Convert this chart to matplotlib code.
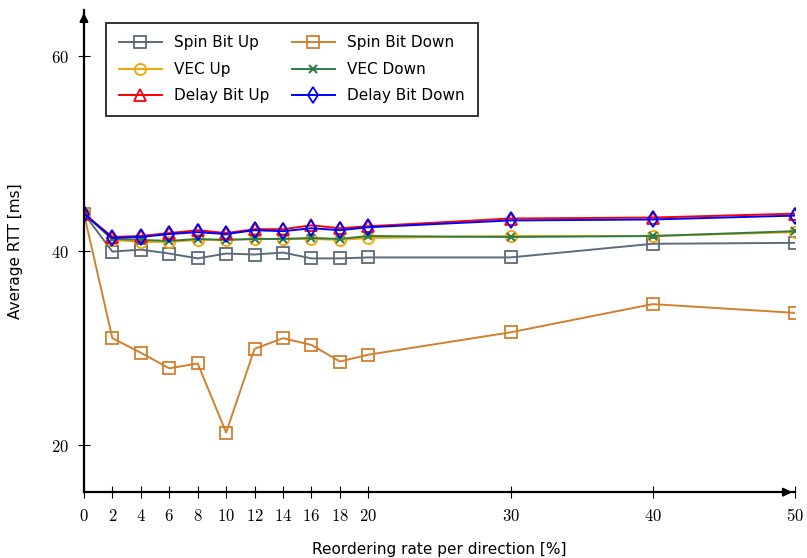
import numpy as np
import matplotlib.pyplot as plt

plt.rcParams['mathtext.fontset'] = 'cm'
plt.rcParams['font.family'] = ['DejaVu Sans']

# reordering rate per direction [%]
rates = [0, 2, 4, 6, 8, 10, 12, 14, 16, 18, 20, 30, 40, 50]

spin_up = [43.8, 39.9, 40.1, 39.7, 39.2, 39.7, 39.6, 39.8, 39.2, 39.2, 39.3, 39.3, 40.7, 40.8]
spin_down = [43.8, 31.0, 29.5, 27.9, 28.4, 21.3, 29.9, 31.0, 30.3, 28.6, 29.3, 31.6, 34.5, 33.6]
vec_up = [43.8, 41.1, 40.9, 40.9, 41.1, 41.1, 41.2, 41.2, 41.2, 41.1, 41.3, 41.5, 41.5, 41.9]
vec_down = [43.8, 41.2, 41.1, 41.0, 41.2, 41.1, 41.2, 41.2, 41.3, 41.2, 41.5, 41.4, 41.5, 42.0]
delay_up = [43.8, 41.4, 41.5, 41.8, 42.1, 41.8, 42.2, 42.2, 42.6, 42.3, 42.5, 43.3, 43.4, 43.8]
delay_down = [43.8, 41.3, 41.4, 41.7, 41.9, 41.7, 42.1, 42.0, 42.3, 42.1, 42.4, 43.1, 43.2, 43.6]

xticks = [0, 2, 4, 6, 8, 10, 12, 14, 16, 18, 20, 30, 40, 50]
yticks = [20, 40, 60]

fig = plt.figure(figsize=(8.07, 5.58), dpi=100)
ax = fig.add_axes([0.104, 0.118, 0.881, 0.864])

# series: (values, label, colour, marker)
series = [
    (spin_up, 'Spin Bit Up', '#5b6b7a', 's'),
    (spin_down, 'Spin Bit Down', '#d0802e', 's'),
    (vec_up, 'VEC Up', '#f5a300', 'o'),
    (vec_down, 'VEC Down', '#2e7d45', 'x'),
    (delay_up, 'Delay Bit Up', '#ff0000', '^'),
    (delay_down, 'Delay Bit Down', '#0000ff', 'd'),
]
lines = []
for vals, lab, col, mk in series:
    if mk == 'x':
        ln, = ax.plot(rates, vals, color=col, marker=mk, markersize=6, markeredgewidth=1.5,
                      linewidth=1.4, label=lab)
    else:
        ln, = ax.plot(rates, vals, color=col, marker=mk, markersize=8,
                      markerfacecolor='none', markeredgewidth=1.3, linewidth=1.4, label=lab)
    lines.append(ln)

ax.set_xlim(0, 50)
ax.set_ylim(15.17, 64.73)

# axis lines with arrow tips
for s in ['top', 'right']:
    ax.spines[s].set_visible(False)
ax.spines['left'].set_linewidth(1.6)
ax.spines['bottom'].set_linewidth(1.6)
ax.annotate('', xy=(1.0, 0), xytext=(0.98, 0), xycoords='axes fraction',
            arrowprops=dict(arrowstyle='-|>', color='black', lw=1.6, mutation_scale=12))
ax.annotate('', xy=(0, 1.0), xytext=(0, 0.98), xycoords='axes fraction',
            arrowprops=dict(arrowstyle='-|>', color='black', lw=1.6, mutation_scale=12))

ax.set_xticks(xticks)
ax.set_xticklabels(['$%d$' % t for t in xticks], fontsize=12)
ax.set_yticks(yticks)
ax.set_yticklabels(['$%d$' % t for t in yticks], fontsize=12)
ax.tick_params(direction='inout', length=8, width=0.8, pad=7)

ax.set_xlabel('Reordering rate per direction [%]', fontsize=11, labelpad=12)
ax.set_ylabel('Average RTT [ms]', fontsize=11, labelpad=20)

# legend filled row by row, as in the original
order = [0, 2, 4, 1, 3, 5]
leg = ax.legend([lines[i] for i in order], [series[i][1] for i in order],
                loc='upper left', ncol=2, bbox_to_anchor=(0.02, 0.99), fontsize=11,
                frameon=True, fancybox=False, edgecolor='black', handlelength=2.8,
                columnspacing=1.5, borderpad=0.85, labelspacing=0.75)
leg.get_frame().set_linewidth(1.4)

fig.savefig('out.png', dpi=100)
